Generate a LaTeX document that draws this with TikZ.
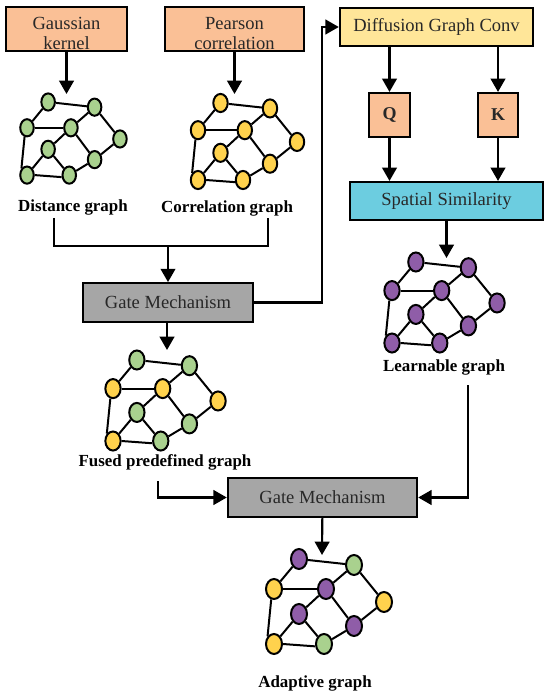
\documentclass[tikz,border=0pt]{standalone}
\usepackage{fontspec}
\setmainfont{Liberation Serif}
\usetikzlibrary{arrows.meta,positioning,shapes.geometric,calc}
\definecolor{boxOrange}{RGB}{250,192,150}
\definecolor{boxYellow}{RGB}{255,230,153}
\definecolor{boxBlue}{RGB}{108,205,224}
\definecolor{boxGray}{RGB}{166,166,166}
\definecolor{netG}{RGB}{169,209,142}
\definecolor{netY}{RGB}{255,210,77}
\definecolor{netP}{RGB}{143,93,168}
\definecolor{txtDark}{RGB}{40,40,40}
\newcommand{\netgraph}[6]{%
  \foreach \c [count=\i] in {#6} {
    \pgfmathsetmacro{\px}{{25,80,0,52,110,25,80,0,50}[\i-1]}
    \pgfmathsetmacro{\py}{{0,6,30,30,43,55,67,85,85}[\i-1]}
    \node[netnode, fill=\c, minimum width={#4*12pt}, minimum height={#5*15pt}] (#1\i) at ({#2+#4*\px},{#3+#5*\py}) {};
  }
  \foreach \a/\b in {1/2,1/3,3/4,2/4,2/5,4/6,4/7,5/7,6/8,6/9,7/9}
    \draw[edge] (#1\a) -- (#1\b);
  \draw[edge] (#13.255) -- (#18.130);
  \draw[edge] (#18.east) -- (#19.195);
}
\begin{document}
\begin{tikzpicture}[
    x=0.75pt, y=-0.75pt,
    block/.style={draw=black, line width=1.6pt, inner sep=0pt, align=center, text=txtDark, font=\fontsize{13.9}{15}\selectfont},
    tagbox/.style={block, fill=boxOrange, minimum width=30.5pt, minimum height=33pt, font=\fontsize{13.5}{15}\selectfont\bfseries},
    netnode/.style={draw=black, ellipse, line width=1.5pt, inner sep=0pt},
    edge/.style={line width=1.5pt, black},
    caption/.style={inner sep=0pt, font=\fontsize{12.7}{15}\selectfont\bfseries, text=black},
    arrow/.style={-{Triangle[length=10pt,width=11pt]}, line width=1.6pt, black},
    wire/.style={line width=1.6pt, black}
  ]
    \useasboundingbox (0,0) rectangle (550,698);
    % top row
    \node[block, fill=boxOrange, minimum width=91pt, minimum height=33pt] (gauss) at (66.5,29) {\rule{0pt}{15.5pt}Gaussian\\kernel};
    \node[block, fill=boxOrange, minimum width=104pt, minimum height=33pt] (pearson) at (234.5,29) {\rule{0pt}{15.5pt}Pearson\\correlation};
    \node[block, fill=boxYellow, minimum width=145pt, minimum height=28.5pt] (diff) at (436.5,27) {Diffusion Graph Conv};
    \node[tagbox] (q) at (389.5,115) {Q};
    \node[tagbox] (k) at (498,115) {K};
    \node[block, fill=boxBlue, minimum width=145pt, minimum height=28.5pt] (spatial) at (446.5,201) {Spatial Similarity};
    \node[block, fill=boxGray, minimum width=127.5pt, minimum height=29pt] (gateA) at (168,302.5) {Gate Mechanism};
    \node[block, fill=boxGray, minimum width=142pt, minimum height=29pt] (gateB) at (322.5,497.5) {Gate Mechanism};
    % graphs
    \netgraph{dist}{27}{102}{0.845}{0.86}{netG,netG,netG,netG,netG,netG,netG,netG,netG}
    \netgraph{corr}{198}{103}{0.9}{0.906}{netY,netY,netY,netY,netY,netY,netY,netY,netY}
    \netgraph{learn}{392}{262}{0.955}{0.953}{netP,netP,netP,netP,netP,netP,netP,netP,netP}
    \netgraph{fused}{113}{360}{0.955}{0.953}{netG,netG,netY,netY,netY,netG,netG,netY,netG}
    \netgraph{adapt}{274}{559}{1}{1}{netP,netG,netY,netP,netY,netP,netP,netY,netG}
    % captions
    \node[caption] (distcap) at (73,207) {Distance graph};
    \node[caption] (corrcap) at (227,208) {Correlation graph};
    \node[caption] (learncap) at (444,367) {Learnable graph};
    \node[caption] (fusedcap) at (165,462) {Fused predefined graph};
    \node[caption] (adaptcap) at (315,683) {Adaptive graph};
    % free ends of the connectors
    \coordinate (gaussend) at (66.5,94);
    \coordinate (pearsonend) at (234.5,94);
    \coordinate (spatialend) at (446.5,258);
    \coordinate (gateAend) at (167,350);
    \coordinate (gateBend) at (322,555);
    \coordinate (joinL) at (54,218);
    \coordinate (joinR) at (268,218);
    \coordinate (joinM) at (168,246);
    \coordinate (fusedout) at (158,481);
    \coordinate (learnout) at (468,385);
    \coordinate (riser) at (322,302.5);
    % connectors
    \draw[arrow] (gauss) -- (gaussend);
    \draw[arrow] (pearson) -- (pearsonend);
    \draw[arrow] (spatial) -- (spatialend);
    \draw[arrow] (gateA.south -| gateAend) -- (gateAend);
    \draw[arrow] (gateB) -- (gateBend);
    \draw[arrow] (diff.south -| q) -- (q);
    \draw[arrow] (diff.south -| k) -- (k);
    \draw[arrow] (q) -- (q |- spatial.north);
    \draw[arrow] (k) -- (k |- spatial.north);
    \draw[wire] (joinL) |- (joinM) -| (joinR);
    \draw[arrow] (joinM) -- (gateA);
    \draw[arrow] (gateA) -- (riser) |- (diff);
    \draw[arrow] (fusedout) |- (gateB);
    \draw[arrow] (learnout) |- (gateB);
  \end{tikzpicture}
\end{document}
